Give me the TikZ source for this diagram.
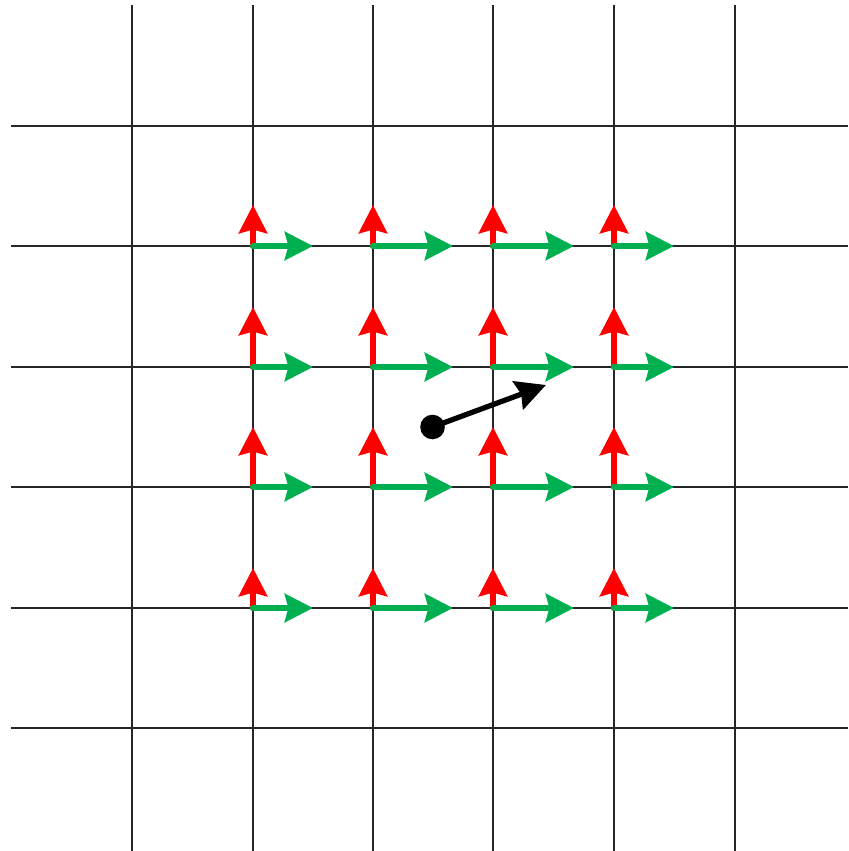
\documentclass[tikz,border=0pt]{standalone}
\usetikzlibrary{arrows.meta}
\definecolor{arrgreen}{RGB}{0,176,80}
\begin{document}
\begin{tikzpicture}[x=0.02cm,y=-0.02cm,
  gridline/.style={line width=1.1pt, black!85},
  redarr/.style={line width=3.4pt, red, line cap=round, -{Stealth[length=16pt,width=16pt,inset=2pt]}},
  greenarr/.style={line width=3.4pt, arrgreen, line cap=round, -{Stealth[length=16pt,width=16pt,inset=2pt]}},
  blackarr/.style={line width=3pt, black, line cap=round, -{Stealth[length=17pt,width=17pt,inset=2pt]}},
  dot/.style={circle, fill=black, inner sep=0pt, minimum size=14pt}]
\useasboundingbox (0,0) rectangle (848,851);
% grid
\foreach \x in {132,253,373,493,614,735}
  \draw[gridline] (\x,5) -- (\x,851);
\foreach \y in {126,246,367,487,608,728}
  \draw[gridline] (11,\y) -- (848,\y);
% grid points and arrow tips
\foreach \x/\i/\gl in {253/1/60, 373/2/80, 493/3/81, 614/4/60}
  \foreach \y/\j/\rl in {246/1/41, 367/2/60, 487/3/60, 608/4/40} {
    \coordinate (p-\i-\j) at (\x,\y);
    \coordinate (r-\i-\j) at (\x,\y-\rl);
    \coordinate (g-\i-\j) at (\x+\gl,\y);
  }
\foreach \i in {1,...,4}
  \foreach \j in {1,...,4}
    \draw[redarr] (p-\i-\j) -- (r-\i-\j);
\foreach \i in {1,...,4}
  \foreach \j in {1,...,4}
    \draw[greenarr] (p-\i-\j) -- (g-\i-\j);
% black point and arrow
\node[dot] (pt) at (432.5,427) {};
\coordinate (tip) at (546,385);
\draw[blackarr] (pt.center) -- (tip);
\end{tikzpicture}
\end{document}
